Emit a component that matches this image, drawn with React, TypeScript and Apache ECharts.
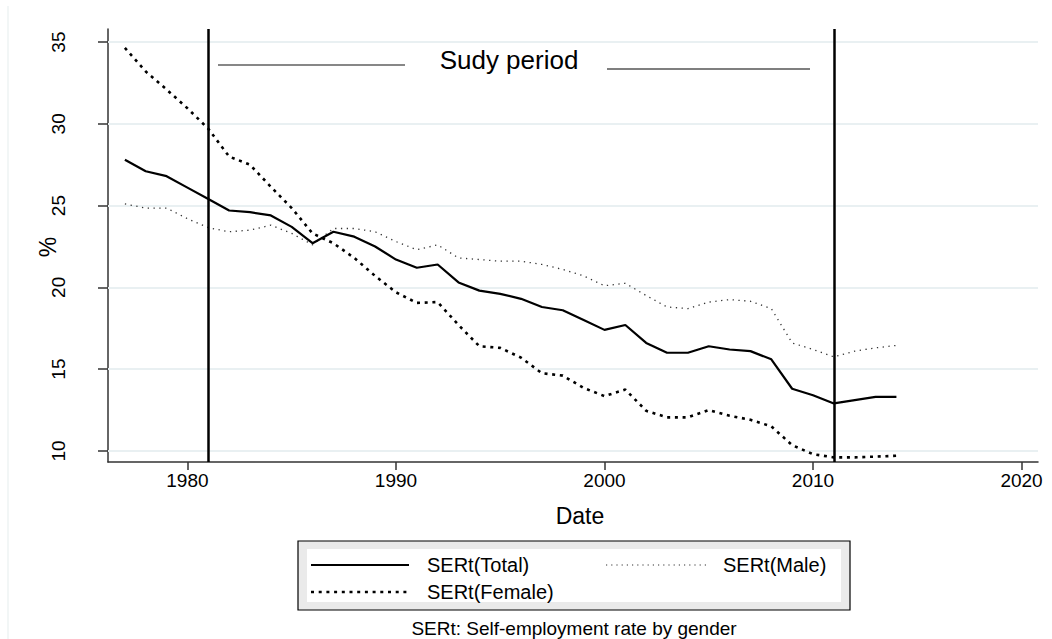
import React, { useEffect, useRef } from "react";
import * as echarts from "echarts";

const years = [
  1977, 1978, 1979, 1980, 1981, 1982, 1983, 1984, 1985, 1986, 1987, 1988, 1989,
  1990, 1991, 1992, 1993, 1994, 1995, 1996, 1997, 1998, 1999, 2000, 2001, 2002,
  2003, 2004, 2005, 2006, 2007, 2008, 2009, 2010, 2011, 2012, 2013, 2014,
];
const total = [
  27.8, 27.1, 26.8, 26.1, 25.4, 24.7, 24.6, 24.4, 23.7, 22.7, 23.4, 23.1, 22.5,
  21.7, 21.2, 21.4, 20.3, 19.8, 19.6, 19.3, 18.8, 18.6, 18.0, 17.4, 17.7, 16.6,
  16.0, 16.0, 16.4, 16.2, 16.1, 15.6, 13.8, 13.4, 12.9, 13.1, 13.3, 13.3,
];
const male = [
  25.1, 24.85, 24.85, 24.2, 23.65, 23.4, 23.5, 23.8, 23.3, 22.6, 23.6, 23.6, 23.4,
  22.8, 22.3, 22.6, 21.8, 21.7, 21.6, 21.6, 21.4, 21.1, 20.7, 20.1, 20.25, 19.5,
  18.8, 18.7, 19.1, 19.25, 19.15, 18.7, 16.6, 16.2, 15.75, 16.1, 16.3, 16.45,
];
const female = [
  34.65, 33.2, 32.1, 30.95, 29.7, 28.0, 27.5, 26.15, 24.85, 23.3, 22.7, 21.8, 20.7,
  19.7, 19.05, 19.1, 17.7, 16.4, 16.3, 15.7, 14.75, 14.6, 13.85, 13.35, 13.75, 12.45,
  12.05, 12.05, 12.5, 12.15, 11.9, 11.5, 10.35, 9.8, 9.6, 9.6, 9.65, 9.7,
];
const xTicks = [1980, 1990, 2000, 2010, 2020];
const yTicks = [10, 15, 20, 25, 30, 35];
const periodBounds = [1981, 2011];
const seriesNames = ["SERt(Total)", "SERt(Male)", "SERt(Female)"];
const xRange = [1976.19, 2020.79];
const yRange = [9.32, 35.8];

const FONT = '"Liberation Sans", Arial, Helvetica, sans-serif';

export default function App() {
  const ref = useRef<HTMLDivElement>(null);
  useEffect(() => {
    document.body.style.margin = "0";
    const chart = echarts.init(ref.current!, null, { renderer: "svg" });
    const pair = (arr: number[]) => years.map((y, i) => [y, arr[i]]);
    const axisColor = "#333";
    chart.setOption({
      animation: false,
      backgroundColor: "#ffffff",
      grid: { left: 108, top: 29, width: 930, height: 433 },
      xAxis: {
        type: "value",
        min: xRange[0],
        max: xRange[1],
        axisLine: { show: true, onZero: false, lineStyle: { color: axisColor, width: 1.5 } },
        axisTick: { show: true, length: 8, customValues: xTicks, lineStyle: { color: axisColor, width: 1.5 } },
        axisLabel: {
          customValues: xTicks,
          formatter: (v: number) => String(v),
          fontSize: 19,
          color: "#000",
          fontFamily: FONT,
          margin: 9,
        },
        splitLine: { show: false },
      },
      yAxis: {
        type: "value",
        min: yRange[0],
        max: yRange[1],
        axisLine: { show: true, onZero: false, lineStyle: { color: axisColor, width: 1.5 } },
        axisTick: { show: true, length: 10, customValues: yTicks, lineStyle: { color: axisColor, width: 1.5 } },
        axisLabel: {
          customValues: yTicks,
          formatter: (v: number) => String(v),
          rotate: 90,
          fontSize: 19,
          color: "#000",
          fontFamily: FONT,
          margin: 40,
        },
        splitLine: { show: false },
      },
      series: [
        {
          name: "grid",
          type: "line",
          data: [],
          silent: true,
          markLine: {
            silent: true,
            z: 1,
            symbol: ["none", "none"],
            label: { show: false },
            lineStyle: { color: "#e9f0f2", width: 2, type: "solid" },
            data: yTicks.map((v) => ({ yAxis: v })),
          },
        },
        {
          name: seriesNames[1],
          type: "line",
          data: pair(male),
          symbol: "none",
          lineStyle: { color: "#333", width: 1.3, type: [1.3, 4.5] },
          z: 3,
        },
        {
          name: seriesNames[2],
          type: "line",
          data: pair(female),
          symbol: "none",
          lineStyle: { color: "#000", width: 2.6, type: [3, 4.7] },
          z: 3,
        },
        {
          name: seriesNames[0],
          type: "line",
          data: pair(total),
          symbol: "none",
          lineStyle: { color: "#000", width: 2.2, type: "solid" },
          z: 4,
          markLine: {
            silent: true,
            symbol: ["none", "none"],
            label: { show: false },
            lineStyle: { color: "#000", width: 2.5, type: "solid" },
            data: periodBounds.map((v) => ({ xAxis: v })),
          },
        },
      ],
      graphic: [
        { type: "line", shape: { x1: 8, y1: 6, x2: 8, y2: 639 }, style: { stroke: "#eef3f3", lineWidth: 1.5 } },
        { type: "line", shape: { x1: 218, y1: 65, x2: 405, y2: 65 }, style: { stroke: "#111", lineWidth: 1.2 } },
        { type: "line", shape: { x1: 607, y1: 69, x2: 810, y2: 69 }, style: { stroke: "#555", lineWidth: 1.4 } },
        {
          type: "text",
          x: 509,
          y: 60,
          style: { text: "Sudy period", fontSize: 26, fontFamily: FONT, fill: "#000", align: "center", verticalAlign: "middle" },
        },
        {
          type: "text",
          x: 580,
          y: 516,
          style: { text: "Date", fontSize: 23, fontFamily: FONT, fill: "#000", align: "center", verticalAlign: "middle" },
        },
        {
          type: "text",
          x: 48,
          y: 247,
          rotation: Math.PI / 2,
          style: { text: "%", fontSize: 23, fontFamily: FONT, fill: "#000", align: "center", verticalAlign: "middle" },
        },
        {
          type: "rect",
          shape: { x: 298, y: 541, width: 552, height: 69 },
          style: { fill: "#eaeaea", stroke: "#000", lineWidth: 1.2 },
        },
        {
          type: "rect",
          shape: { x: 307, y: 549, width: 534, height: 53 },
          style: { fill: "#ffffff" },
        },
        { type: "line", shape: { x1: 311, y1: 565, x2: 409, y2: 565 }, style: { stroke: "#000", lineWidth: 2.2 } },
        { type: "line", shape: { x1: 606, y1: 565, x2: 707, y2: 565 }, style: { stroke: "#333", lineWidth: 1.2, lineDash: [1.2, 4] } },
        { type: "line", shape: { x1: 311, y1: 592, x2: 409, y2: 592 }, style: { stroke: "#000", lineWidth: 2.6, lineDash: [3, 4.7] } },
        {
          type: "text",
          x: 427,
          y: 565,
          style: { text: seriesNames[0], fontSize: 20, fontFamily: FONT, fill: "#000", align: "left", verticalAlign: "middle" },
        },
        {
          type: "text",
          x: 723,
          y: 565,
          style: { text: seriesNames[1], fontSize: 20, fontFamily: FONT, fill: "#000", align: "left", verticalAlign: "middle" },
        },
        {
          type: "text",
          x: 427,
          y: 592,
          style: { text: seriesNames[2], fontSize: 20, fontFamily: FONT, fill: "#000", align: "left", verticalAlign: "middle" },
        },
        {
          type: "text",
          x: 574,
          y: 628,
          style: { text: "SERt: Self-employment rate by gender", fontSize: 19, fontFamily: FONT, fill: "#000", align: "center", verticalAlign: "middle" },
        },
      ],
    });
    return () => chart.dispose();
  }, []);
  return <div ref={ref} style={{ width: 1052, height: 639 }} />;
}
